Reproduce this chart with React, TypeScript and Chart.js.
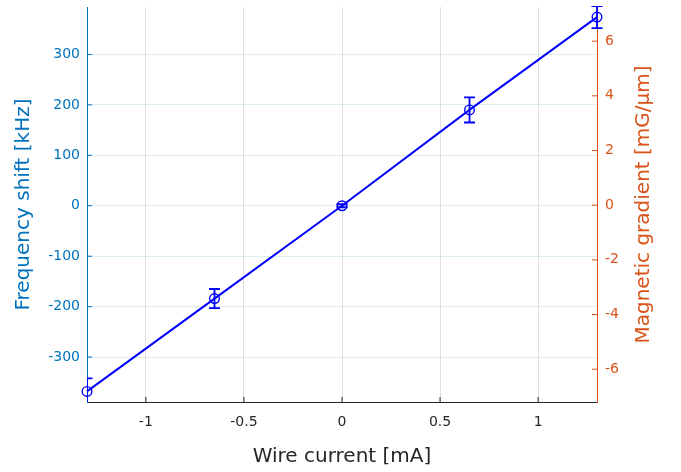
import React, { useEffect, useRef } from "react";
import { Chart, registerables } from "chart.js";

Chart.register(...registerables);

// ---- data ----
const currents = [-1.3, -0.65, 0, 0.65, 1.3];
const shifts = [-368, -184, 0, 190, 374];
const shiftErrors = [26, 19, 3, 25, 22];
const xTicks = [-1, -0.5, 0, 0.5, 1];
const freqTicks = [-300, -200, -100, 0, 100, 200, 300];
const gradTicks = [-6, -4, -2, 0, 2, 4, 6];
const xRange = [-1.3, 1.3];
const freqRange = [-389, 394];
const gradRange = [-7.2, 7.25];

const FONT = "'DejaVu Sans', sans-serif";
const BLUE_AX = "#0072BD";
const ORANGE_AX = "#D95319";
const DARK = "#262626";
const LINE = "#0000FF";

const errorBarPlugin = {
  id: "errorBars",
  afterDatasetsDraw(chart: any) {
    const { ctx, chartArea: a, scales } = chart;
    const xs = scales.x;
    const ys = scales.y;
    ctx.save();
    ctx.beginPath();
    ctx.rect(a.left, a.top - 1, a.right - a.left + 20, a.bottom - a.top + 1);
    ctx.clip();
    ctx.strokeStyle = LINE;
    ctx.lineWidth = 1.8;
    currents.forEach((c, i) => {
      const x = xs.getPixelForValue(c);
      const y1 = ys.getPixelForValue(shifts[i] + shiftErrors[i]);
      const y2 = ys.getPixelForValue(shifts[i] - shiftErrors[i]);
      ctx.beginPath();
      ctx.moveTo(x, y1);
      ctx.lineTo(x, y2);
      ctx.moveTo(x - 5.5, y1);
      ctx.lineTo(x + 5.5, y1);
      ctx.moveTo(x - 5.5, y2);
      ctx.lineTo(x + 5.5, y2);
      ctx.stroke();
    });
    ctx.restore();
  },
};

const tickPlugin = {
  id: "inwardTicks",
  afterDraw(chart: any) {
    const { ctx, chartArea: a, scales } = chart;
    const len = 5;
    ctx.save();
    ctx.lineWidth = 1;
    const seg = (x1: number, y1: number, x2: number, y2: number) => {
      ctx.beginPath();
      ctx.moveTo(x1, y1);
      ctx.lineTo(x2, y2);
      ctx.stroke();
    };
    ctx.strokeStyle = BLUE_AX;
    freqTicks.forEach((v) => {
      const y = scales.y.getPixelForValue(v);
      seg(a.left, y, a.left + len, y);
    });
    ctx.strokeStyle = ORANGE_AX;
    gradTicks.forEach((v) => {
      const y = scales.y2.getPixelForValue(v);
      seg(a.right, y, a.right - len, y);
    });
    ctx.strokeStyle = DARK;
    xTicks.forEach((v) => {
      const x = scales.x.getPixelForValue(v);
      seg(x, a.bottom, x, a.bottom - len);
    });
    // right axis title (reads bottom-to-top)
    ctx.translate(644, (a.top + a.bottom) / 2);
    ctx.rotate(-Math.PI / 2);
    ctx.font = `20px ${FONT}`;
    ctx.fillStyle = ORANGE_AX;
    ctx.textAlign = "center";
    ctx.textBaseline = "middle";
    ctx.fillText("Magnetic gradient [mG/\u03BCm]", 0, 0);
    ctx.restore();
  },
};

export default function App() {
  const ref = useRef<HTMLCanvasElement | null>(null);

  useEffect(() => {
    if (!ref.current) return;
    const chart = new Chart(ref.current, {
      type: "line",
      data: {
        datasets: [
          {
            data: currents.map((c, i) => ({ x: c, y: shifts[i] })),
            borderColor: LINE,
            borderWidth: 2,
            backgroundColor: "rgba(0,0,0,0)",
            pointStyle: "circle",
            pointRadius: 4.8,
            pointBorderWidth: 1.4,
            pointBorderColor: LINE,
            pointBackgroundColor: "rgba(0,0,0,0)",
            tension: 0,
            clip: false as any,
            yAxisID: "y",
          },
        ],
      },
      options: {
        animation: false,
        responsive: true,
        maintainAspectRatio: false,
        layout: { padding: { top: 7, left: 0, right: 0, bottom: 0 } },
        plugins: { legend: { display: false }, tooltip: { enabled: false } },
        scales: {
          x: {
            type: "linear",
            position: "bottom",
            min: xRange[0],
            max: xRange[1],
            afterBuildTicks: (s: any) => {
              s.ticks = xTicks.map((v) => ({ value: v }));
            },
            afterFit: (s: any) => {
              s.height = 70;
              s.paddingLeft = 0;
              s.paddingRight = 0;
            },
            grid: { color: "rgba(38,38,38,0.15)", drawTicks: false },
            border: { display: true, color: DARK, width: 1 },
            ticks: {
              color: DARK,
              padding: 12,
              font: { family: FONT, size: 14 },
              callback: (v: any) => String(v),
            },
            title: {
              display: true,
              text: "Wire current [mA]",
              color: DARK,
              font: { family: FONT, size: 20 },
              padding: { top: 0, bottom: 3 },
            },
          },
          y: {
            type: "linear",
            position: "left",
            min: freqRange[0],
            max: freqRange[1],
            afterBuildTicks: (s: any) => {
              s.ticks = freqTicks.map((v) => ({ value: v }));
            },
            afterFit: (s: any) => {
              s.width = 87;
              s.paddingTop = 0;
              s.paddingBottom = 0;
            },
            grid: { color: "rgba(0,114,189,0.13)", drawTicks: false },
            border: { display: true, color: BLUE_AX, width: 1 },
            ticks: {
              color: BLUE_AX,
              padding: 7,
              font: { family: FONT, size: 14 },
              callback: (v: any) => String(v),
            },
            title: {
              display: true,
              text: "Frequency shift [kHz]",
              color: BLUE_AX,
              font: { family: FONT, size: 20 },
              padding: { top: 11.5, bottom: 0 },
            },
          },
          y2: {
            type: "linear",
            position: "right",
            min: gradRange[0],
            max: gradRange[1],
            afterBuildTicks: (s: any) => {
              s.ticks = gradTicks.map((v) => ({ value: v }));
            },
            afterFit: (s: any) => {
              s.width = 84;
              s.paddingTop = 0;
              s.paddingBottom = 0;
            },
            grid: { drawOnChartArea: false, drawTicks: false },
            border: { display: true, color: ORANGE_AX, width: 1 },
            ticks: {
              color: ORANGE_AX,
              padding: 8,
              font: { family: FONT, size: 14 },
              callback: (v: any) => String(v),
            },
          },
        },
      },
      plugins: [errorBarPlugin, tickPlugin],
    } as any);
    return () => chart.destroy();
  }, []);

  return (
    <div style={{ position: "fixed", left: 0, top: 0, width: 681, height: 472, background: "#fff" }}>
      <canvas ref={ref} />
    </div>
  );
}
